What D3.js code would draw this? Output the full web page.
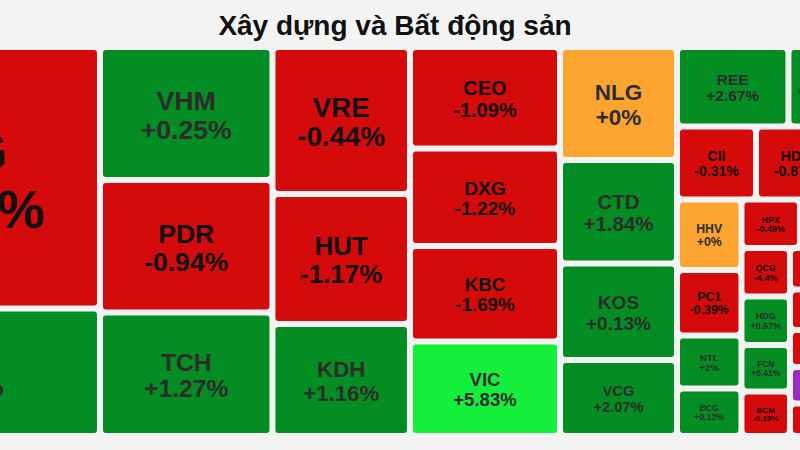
<!DOCTYPE html>
<html>
<head>
<meta charset="utf-8">
<script src="https://cdn.jsdelivr.net/npm/d3@7"></script>
<style>
  html, body { margin: 0; padding: 0; background: #f3f3f3; overflow: hidden; }
  svg { display: block; font-family: "Liberation Sans", Arial, Helvetica, sans-serif; }
</style>
</head>
<body>
<svg id="chart" width="800" height="450"></svg>
<script>
// ---- data ----
const title = "Xây dựng và Bất động sản";
const codes   = ["DIG","NVL","VHM","PDR","TCH","VRE","HUT","KDH","CEO","DXG","KBC","VIC",
                 "NLG","CTD","KOS","VCG","REE","DPG","CII","HDC","HHV","PC1","NTL","BCG",
                 "HPX","LCG","QCG","HDG","FCN","BCM","SCR","CTR","HQC","TDC","FCM"];
const changes = [-1.57, 1.36, 0.25, -0.94, 1.27, -0.44, -1.17, 1.16, -1.09, -1.22, -1.69, 5.83,
                 0, 1.84, 0.13, 2.07, 2.67, 1.05, -0.31, -0.87, 0, -0.39, 2, 0.12,
                 -0.49, -0.6, -4.4, 0.57, 0.41, -0.19, -0.8, -0.5, -1.2, 6.9, -0.7];
const values  = [732.2, 357.0, 229.4, 228.6, 213.0, 202.1, 178.8, 154.0, 152.3, 146.3, 143.3, 141.8,
                 132.2, 121.1, 112.9, 88.9, 88.6, 37.8, 57.7, 58.4, 45.5, 42.2, 34.2, 30.6,
                 28.4, 17.5, 23.5, 23.5, 22.6, 21.6, 19.1, 18.6, 17.0, 16.8, 15.0];
const groups  = ["A","A","B","B","B","C","C","C","D","D","D","D",
                 "E","E","E","E","R.1","R.1","R.2","R.2","R.3.1","R.3.1","R.3.1","R.3.1",
                 "R.3.2.1","R.3.2.1","R.3.2.2.1","R.3.2.2.1","R.3.2.2.1","R.3.2.2.1",
                 "R.3.2.2.2","R.3.2.2.2","R.3.2.2.2","R.3.2.2.2","R.3.2.2.2"];

// ---- build hierarchy ----
const rootData = { id: "root", children: [] };
codes.forEach((c, i) => {
  let node = rootData;
  const segs = groups[i].split(".");
  segs.forEach((s, j) => {
    const id = segs.slice(0, j + 1).join(".");
    let ch = node.children.find(n => n.id === id);
    if (!ch) { ch = { id, children: [] }; node.children.push(ch); }
    node = ch;
  });
  node.children.push({ code: c, change: changes[i], value: values[i] });
});

const svg = d3.select("#chart");
const W = 800, H = 450;

svg.append("rect").attr("width", W).attr("height", H).attr("fill", "#f3f3f3");

svg.append("text")
  .attr("x", 395).attr("y", 35)
  .attr("text-anchor", "middle")
  .attr("font-size", 28).attr("font-weight", "bold")
  .attr("fill", "#111")
  .text(title);

// layout region (the treemap is wider than the visible window)
const area = { x: -180, y: 47, w: 1016, h: 389 };
const pad = 3;

const hroot = d3.hierarchy(rootData).sum(d => d.value || 0);
d3.treemap().tile(d3.treemapSliceDice).size([area.w, area.h])(hroot);

function fill(v) {
  if (v >= 6.9) return "#9a2cc3";
  if (v >= 5) return "#14ef3b";
  if (v > 0) return "#048d22";
  if (v === 0) return "#fba530";
  if (v <= -6.9) return "#22c4e6";
  return "#d50a0b";
}
function textFill(v) { return v < 0 ? "#111" : "#2c2c2c"; }
function fmt(v) { return (v < 0 ? "" : "+") + v + "%"; }

const g = svg.append("g").attr("transform", `translate(${area.x},${area.y})`);
const leaves = g.selectAll("g.leaf").data(hroot.leaves()).join("g").attr("class", "leaf");

leaves.append("rect")
  .attr("x", d => d.x0 + pad).attr("y", d => d.y0 + pad)
  .attr("width", d => Math.max(0, d.x1 - d.x0 - 2 * pad))
  .attr("height", d => Math.max(0, d.y1 - d.y0 - 2 * pad))
  .attr("rx", 3).attr("ry", 3)
  .attr("fill", d => fill(d.data.change));

leaves.each(function(d) {
  const w = d.x1 - d.x0 - 2 * pad, h = d.y1 - d.y0 - 2 * pad;
  const fs = 0.21 * Math.min(w, h);
  const cx = (d.x0 + d.x1) / 2, cy = (d.y0 + d.y1) / 2;
  const sel = d3.select(this);
  sel.append("text")
    .attr("x", cx).attr("y", cy - 0.14 * fs)
    .attr("text-anchor", "middle").attr("font-weight", "bold")
    .attr("font-size", fs).attr("fill", textFill(d.data.change))
    .text(d.data.code);
  sel.append("text")
    .attr("x", cx).attr("y", cy + 0.94 * fs)
    .attr("text-anchor", "middle").attr("font-weight", "bold")
    .attr("font-size", fs).attr("fill", textFill(d.data.change))
    .text(fmt(d.data.change));
});
</script>
</body>
</html>
